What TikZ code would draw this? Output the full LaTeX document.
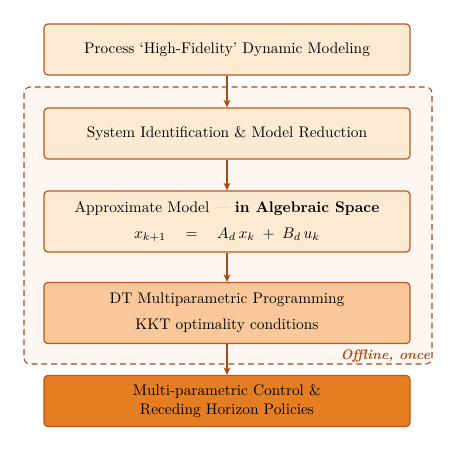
\documentclass[tikz,border=0pt]{standalone}
\usetikzlibrary{arrows.meta}
\definecolor{boxfill}{HTML}{FCEBD2}
\definecolor{boxdraw}{HTML}{BA5A1E}
\definecolor{midfill}{HTML}{F8C89A}
\definecolor{darkfill}{HTML}{E57E22}
\definecolor{regfill}{HTML}{FDF6F1}
\definecolor{regdraw}{HTML}{A84C18}
\definecolor{arrowc}{HTML}{AA4A16}
\definecolor{dashc}{HTML}{F0AE72}
\begin{document}
\begin{tikzpicture}[x=0.65pt,y=-0.65pt,
  stage/.style={draw=boxdraw, line width=0.8pt, rounded corners=2.5pt, fill=boxfill,
    minimum width=237.9pt, minimum height=33.15pt, align=center, inner sep=0pt},
  tall/.style={minimum height=39.65pt},
  flow/.style={draw=arrowc, line width=0.9pt, -{Stealth[length=5pt,width=4.5pt]}}]
\useasboundingbox (0,0) rectangle (450,450);
\fill[white] (0,0) rectangle (450,450);
\draw[regdraw, fill=regfill, line width=0.7pt, rounded corners=4pt, dash pattern=on 3.8pt off 2.6pt]
  (24,87) rectangle (432,364);
\coordinate (regse) at (432,364);
\node[stage] (a) at (227,49.5) {Process `High-Fidelity' Dynamic Modeling};
\node[stage] (b) at (227,133.5) {System Identification \& Model Reduction};
\node[stage,tall] (c) at (227,221.5) {Approximate Model {\color{dashc}---} \textbf{in Algebraic Space}\\[5pt]
  $x_{k+1} \quad = \quad A_d\, x_k \;+\; B_d\, u_k$};
\node[stage,tall,fill=midfill] (d) at (227,313) {DT Multiparametric Programming\\[5pt] KKT optimality conditions};
\node[stage,fill=darkfill] (e) at (227,401) {Multi-parametric Control \&\\ Receding Horizon Policies};
\node[anchor=south east, inner sep=1pt, text=regdraw, font=\small\bfseries\itshape] (lbl) at (regse) {Offline, once};
\draw[flow] (a) -- (b);
\draw[flow] (b) -- (c);
\draw[flow] (c) -- (d);
\draw[flow] (d) -- (e);
\end{tikzpicture}
\end{document}
